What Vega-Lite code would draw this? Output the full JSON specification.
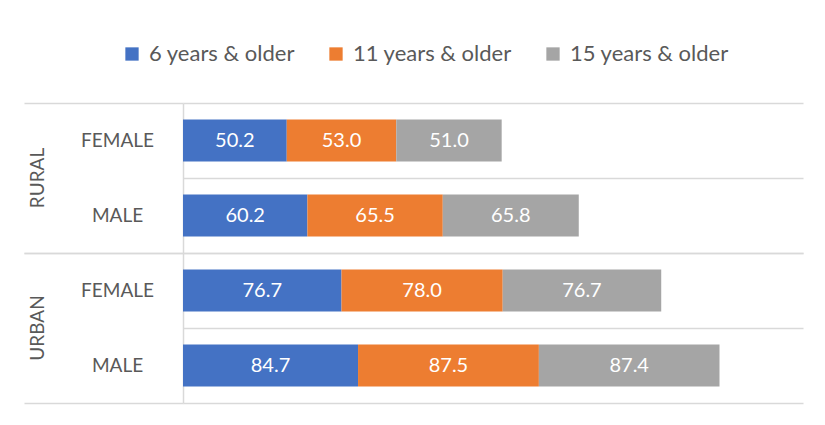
{
  "$schema": "https://vega.github.io/schema/vega-lite/v6.json",
  "padding": {"left": 23, "top": 43, "right": 5, "bottom": 5},
  "data": {"values": [
    {"area": "RURAL", "sex": "FEMALE", "group": "6 years & older", "age": 6, "value": 50.2},
    {"area": "RURAL", "sex": "FEMALE", "group": "11 years & older", "age": 11, "value": 53.0},
    {"area": "RURAL", "sex": "FEMALE", "group": "15 years & older", "age": 15, "value": 51.0},
    {"area": "RURAL", "sex": "MALE", "group": "6 years & older", "age": 6, "value": 60.2},
    {"area": "RURAL", "sex": "MALE", "group": "11 years & older", "age": 11, "value": 65.5},
    {"area": "RURAL", "sex": "MALE", "group": "15 years & older", "age": 15, "value": 65.8},
    {"area": "URBAN", "sex": "FEMALE", "group": "6 years & older", "age": 6, "value": 76.7},
    {"area": "URBAN", "sex": "FEMALE", "group": "11 years & older", "age": 11, "value": 78.0},
    {"area": "URBAN", "sex": "FEMALE", "group": "15 years & older", "age": 15, "value": 76.7},
    {"area": "URBAN", "sex": "MALE", "group": "6 years & older", "age": 6, "value": 84.7},
    {"area": "URBAN", "sex": "MALE", "group": "11 years & older", "age": 11, "value": 87.5},
    {"area": "URBAN", "sex": "MALE", "group": "15 years & older", "age": 15, "value": 87.4}
  ]},
  "facet": {
    "row": {
      "field": "area", "type": "nominal", "title": null, "sort": ["RURAL", "URBAN"],
      "header": {"labelAngle": -90, "labelOrient": "left", "labelFont": "Lato", "labelFontSize": 19, "labelColor": "#595959", "labelPadding": -34}
    }
  },
  "spacing": {"row": 0},
  "spec": {
    "width": 620,
    "height": 150,
    "encoding": {
      "y": {
        "field": "sex", "type": "nominal", "sort": ["FEMALE", "MALE"],
        "scale": {"paddingInner": 0, "paddingOuter": 0},
        "axis": {
          "title": null, "tickBand": "extent", "grid": true, "gridColor": "#d9d9d9", "gridWidth": 1.5,
          "domainColor": "#d9d9d9", "domainWidth": 1.5, "tickSize": 159, "tickWidth": 1.5,
          "tickColor": {"condition": {"test": "datum.value === 'FEMALE'", "value": "transparent"}, "value": "#d9d9d9"},
          "labelPadding": -93, "labelAlign": "center", "labelBaseline": "middle",
          "labelFont": "Lato", "labelFontSize": 19, "labelColor": "#595959"
        }
      }
    },
    "layer": [
      {
        "mark": {"type": "bar", "height": {"band": 0.56}},
        "encoding": {
          "x": {"field": "value", "type": "quantitative", "stack": "zero", "scale": {"domain": [0, 300]}, "axis": null},
          "order": {"field": "age", "type": "quantitative", "sort": "ascending"},
          "color": {
            "field": "group", "type": "nominal",
            "scale": {"domain": ["6 years & older", "11 years & older", "15 years & older"], "range": ["#4472C4", "#ED7D31", "#A5A5A5"]},
            "legend": {"title": null, "orient": "none", "direction": "horizontal", "legendX": -62, "legendY": -60,
              "symbolType": "square", "symbolSize": 177, "labelFont": "Lato", "labelFontSize": 22, "labelColor": "#595959",
              "columnPadding": 30, "labelOffset": 6}
          }
        }
      },
      {
        "mark": {"type": "text", "color": "white", "font": "Lato", "fontSize": 20},
        "encoding": {
          "x": {"field": "value", "type": "quantitative", "stack": "zero", "bandPosition": 0.5},
          "order": {"field": "age", "type": "quantitative", "sort": "ascending"},
          "detail": {"field": "group", "type": "nominal"},
          "text": {"field": "value", "type": "quantitative", "format": ".1f"}
        }
      }
    ]
  },
  "config": {"view": {"stroke": null}}
}
